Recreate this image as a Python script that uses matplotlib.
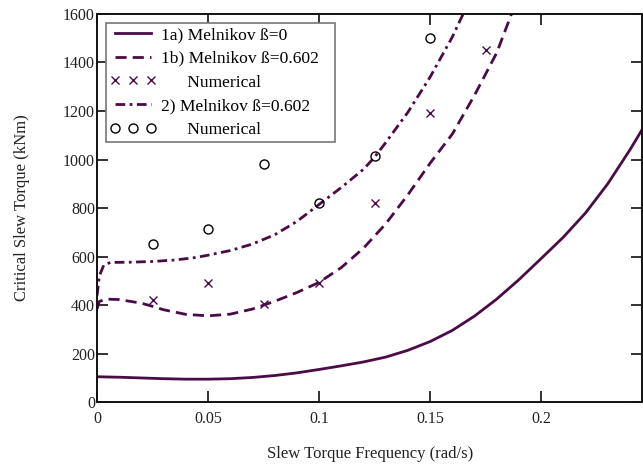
import matplotlib.pyplot as plt
import numpy as np

plt.rcParams['font.family'] = ['Liberation Serif', 'DejaVu Serif']

purple = '#4b0b46'

# curve 1a) Melnikov beta=0
x_1a = [0, 0.01, 0.02, 0.03, 0.04, 0.05, 0.06, 0.07, 0.08, 0.09, 0.10, 0.11, 0.12,
        0.13, 0.14, 0.15, 0.16, 0.17, 0.18, 0.19, 0.20, 0.21, 0.22, 0.23, 0.24, 0.2456]
y_1a = [105, 103, 100, 97, 95, 95, 97, 102, 110, 121, 135, 150, 166,
        186, 214, 250, 296, 355, 425, 505, 592, 680, 780, 900, 1040, 1125]

# curve 1b) Melnikov beta=0.602
x_1b = [0, 0.001, 0.004, 0.01, 0.02, 0.025, 0.03, 0.04, 0.05, 0.06, 0.07, 0.075, 0.08,
        0.09, 0.10, 0.11, 0.12, 0.13, 0.14, 0.15, 0.16, 0.17, 0.18, 0.19]
y_1b = [385, 415, 425, 423, 408, 395, 381, 362, 356, 363, 384, 400, 416,
        452, 494, 555, 635, 735, 855, 985, 1105, 1265, 1440, 1680]

# curve 2) Melnikov beta=0.602
x_2 = [0, 0.001, 0.003, 0.006, 0.015, 0.025, 0.035, 0.045, 0.05, 0.06, 0.07, 0.08,
       0.09, 0.10, 0.11, 0.12, 0.125, 0.13, 0.14, 0.15, 0.16, 0.17]
y_2 = [440, 520, 565, 576, 577, 580, 586, 597, 606, 625, 652, 690,
       745, 815, 885, 960, 1010, 1070, 1195, 1340, 1505, 1700]

# numerical results
x_cross = [0.025, 0.05, 0.075, 0.1, 0.125, 0.15, 0.175]
y_cross = [422, 490, 403, 490, 822, 1192, 1450]
x_circ = [0.025, 0.05, 0.075, 0.1, 0.125, 0.15]
y_circ = [653, 712, 983, 822, 1013, 1502]

fig = plt.figure(figsize=(6.43, 4.65), dpi=100)
ax = fig.add_axes([0.151, 0.135, 0.848, 0.835])

ax.plot(x_1a, y_1a, '-', color=purple, lw=2.0, label='1a) Melnikov ß=0')
ax.plot(x_1b, y_1b, color=purple, lw=2.0, dashes=(4, 2.2),
        label='1b) Melnikov ß=0.602   ')
ax.plot(x_cross, y_cross, 'x', color=purple, ms=6, mew=1.0, ls='none',
        label='      Numerical')
ax.plot(x_2, y_2, color=purple, lw=2.0, dashes=(3.5, 1.6, 1, 1.6),
        label='2) Melnikov ß=0.602')
ax.plot(x_circ, y_circ, 'o', mfc='none', mec='black', ms=6.5, mew=1.0, ls='none',
        label='      Numerical')

ax.set_xlim(0, 0.2456)
ax.set_ylim(0, 1600)
ax.set_xticks([0, 0.05, 0.1, 0.15, 0.2])
ax.set_xticklabels(['0', '0.05', '0.1', '0.15', '0.2'])
ax.set_yticks(np.arange(0, 1601, 200))
ax.tick_params(direction='in', length=8, width=1.3, top=True, right=True,
               labelsize=11.5, colors='#222222')
ax.tick_params(axis='x', pad=6)
ax.tick_params(axis='y', pad=1.5)
for s in ax.spines.values():
    s.set_linewidth(1.4)
    s.set_color('#111111')

ax.set_xlabel('Slew Torque Frequency (rad/s)', fontsize=12, labelpad=14, color='#222222')
ax.set_ylabel('Critical Slew Torque (kNm)', fontsize=12, labelpad=24, color='#222222')

leg = ax.legend(loc='upper left', bbox_to_anchor=(0.016, 0.976), numpoints=3,
                fontsize=12.6, handlelength=2.7, handletextpad=0.25, labelspacing=0.43,
                borderpad=0.2, borderaxespad=0.0, fancybox=False, framealpha=1)
leg.get_frame().set_edgecolor('#777777')
leg.get_frame().set_linewidth(1.2)

fig.savefig('out.png', dpi=100)
